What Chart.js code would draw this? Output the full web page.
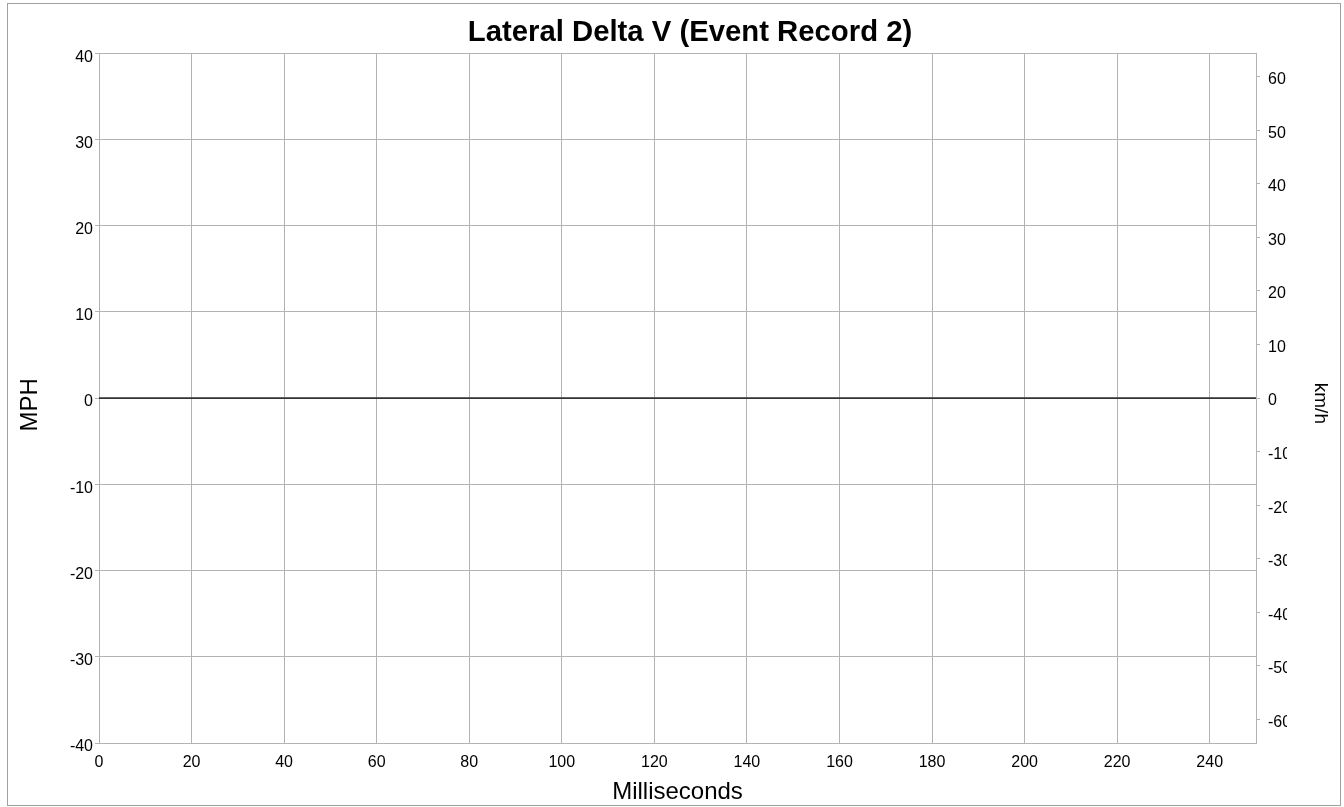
<!DOCTYPE html>
<html>
<head>
<meta charset="utf-8">
<script src="https://cdn.jsdelivr.net/npm/chart.js@4.4.1/dist/chart.umd.min.js"></script>
<style>
  html, body { margin: 0; padding: 0; background: #ffffff; }
  #wrap { width: 1344px; height: 807px; position: relative; }
</style>
</head>
<body>
<div id="wrap"><canvas id="c"></canvas></div>
<script>
// ---- data ----
const timeMs = [0, 10, 20, 30, 40, 50, 60, 70, 80, 90, 100, 110, 120, 130, 140, 150, 160, 170, 180, 190, 200, 210, 220, 230, 240, 250];
const lateralDeltaVMph = [0, 0, 0, 0, 0, 0, 0, 0, 0, 0, 0, 0, 0, 0, 0, 0, 0, 0, 0, 0, 0, 0, 0, 0, 0, 0];
const mphRange = [-40, 40];
const mphStep = 10;
const kmhStep = 10;
const timeRange = [0, 250];
const timeStep = 20;
const KMH_PER_MPH = 1.609344;

const FONT = "'Liberation Sans', Arial, sans-serif";
const GRID = '#b3b3b3';
const EXTRA_RIGHT = 36; // widens the title box so the title sits where the original has it

const points = timeMs.map((t, i) => ({ x: t, y: lateralDeltaVMph[i] }));

const framePlugin = {
  id: 'frame',
  beforeDraw(chart) {
    const ctx = chart.ctx;
    ctx.save();
    ctx.fillStyle = '#ffffff';
    ctx.fillRect(0, 0, chart.width, chart.height);
    ctx.restore();
  },
  afterDraw(chart) {
    const ctx = chart.ctx;
    ctx.save();
    // the original's right-axis label box is narrow and clips 3-character labels
    ctx.fillStyle = '#ffffff';
    ctx.fillRect(1287, chart.chartArea.top - 15, 20, chart.chartArea.bottom - chart.chartArea.top + 30);
    ctx.strokeStyle = '#a0a0a0';
    ctx.lineWidth = 1;
    ctx.strokeRect(7.5, 3.5, 1333, 802);
    ctx.restore();
  }
};

new Chart(document.getElementById('c'), {
  type: 'line',
  data: {
    datasets: [{
      label: 'Lateral Delta V',
      data: points,
      borderColor: '#333333',
      borderWidth: 1.6,
      pointRadius: 0,
      fill: false,
      tension: 0,
      yAxisID: 'y'
    }]
  },
  options: {
    responsive: true,
    maintainAspectRatio: false,
    animation: false,
    devicePixelRatio: 1,
    layout: { padding: { left: 0, top: 0, bottom: 0, right: -EXTRA_RIGHT } },
    plugins: {
      legend: { display: false },
      tooltip: { enabled: false },
      title: {
        display: true,
        text: 'Lateral Delta V (Event Record 2)',
        color: '#000000',
        font: { family: FONT, size: 29.3, weight: 'bold' },
        padding: { top: 15, bottom: 3 }
      }
    },
    scales: {
      x: {
        type: 'linear',
        position: 'bottom',
        min: timeRange[0],
        max: timeRange[1],
        afterFit(scale) { scale.height = 64; },
        grid: { color: GRID, lineWidth: 1, drawTicks: false },
        border: { display: true, color: GRID },
        ticks: {
          stepSize: timeStep,
          includeBounds: false,
          color: '#000000',
          padding: 10,
          maxRotation: 0,
          autoSkip: false,
          font: { family: FONT, size: 16 }
        },
        title: {
          display: true,
          text: 'Milliseconds',
          color: '#000000',
          font: { family: FONT, size: 24 },
          padding: { top: 0, bottom: 0 }
        }
      },
      y: {
        type: 'linear',
        position: 'left',
        min: mphRange[0],
        max: mphRange[1],
        afterFit(scale) { scale.width = 99; },
        grid: { color: GRID, lineWidth: 1, drawTicks: true, tickLength: 4 },
        border: { display: true, color: GRID },
        ticks: {
          stepSize: mphStep,
          color: '#000000',
          padding: 2,
          labelOffset: 4,
          font: { family: FONT, size: 16 }
        },
        title: {
          display: true,
          text: 'MPH  ',
          color: '#000000',
          font: { family: FONT, size: 24 },
          padding: { top: 16, bottom: 0 }
        }
      },
      y2: {
        type: 'linear',
        position: 'right',
        min: mphRange[0] * KMH_PER_MPH,
        max: mphRange[1] * KMH_PER_MPH,
        afterFit(scale) { scale.width = 88 + EXTRA_RIGHT; },
        grid: { drawOnChartArea: false, color: GRID, lineWidth: 1, drawTicks: true, tickLength: 4 },
        border: { display: true, color: GRID },
        ticks: {
          stepSize: kmhStep,
          includeBounds: false,
          color: '#000000',
          padding: 8,
          labelOffset: 3,
          font: { family: FONT, size: 16 }
        },
        title: {
          display: true,
          text: '  km/h',
          color: '#000000',
          font: { family: FONT, size: 19 },
          padding: { top: 12 + EXTRA_RIGHT, bottom: 0 }
        }
      }
    }
  },
  plugins: [framePlugin]
});
</script>
</body>
</html>
